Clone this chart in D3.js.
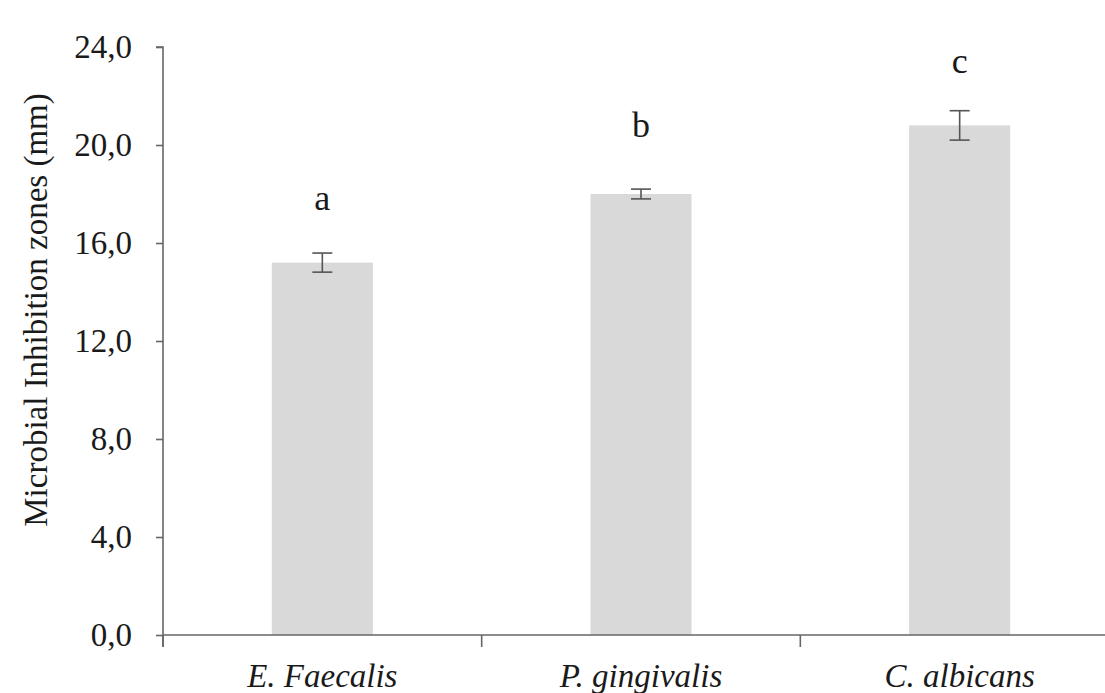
<!DOCTYPE html>
<html>
<head>
<meta charset="utf-8">
<script src="https://cdn.jsdelivr.net/npm/d3@7"></script>
<style>
  body { margin: 0; background: #fff; }
</style>
</head>
<body>
<script>
const categories = ["E. Faecalis", "P. gingivalis", "C. albicans"];
const means = [15.2, 18.0, 20.8];
const errors = [0.39, 0.2, 0.6];
const letters = ["a", "b", "c"];
const letterPos = [17.35, 20.33, 22.94];
const yTicks = [0, 4, 8, 12, 16, 20, 24];

const width = 1105, height = 693;
const margin = {top: 47, right: -14, bottom: 58, left: 163};
const serif = "'Times New Roman', 'Liberation Serif', 'DejaVu Serif', serif";

const svg = d3.select("body").append("svg")
    .attr("width", width)
    .attr("height", height)
    .style("font-family", serif);

const x = d3.scaleBand()
    .domain(categories)
    .range([margin.left, width - margin.right])
    .padding(0);

const y = d3.scaleLinear()
    .domain([0, 24])
    .range([height - margin.bottom, margin.top]);

const barW = x.bandwidth() * 0.317;

// bars
svg.selectAll("rect.bar")
    .data(categories)
    .enter().append("rect")
    .attr("class", "bar")
    .attr("x", (d) => x(d) + x.bandwidth() / 2 - barW / 2)
    .attr("y", (d, i) => y(means[i]))
    .attr("width", barW)
    .attr("height", (d, i) => y(0) - y(means[i]))
    .attr("fill", "#d9d9d9");

// error bars
const eb = svg.selectAll("g.err")
    .data(categories)
    .enter().append("g")
    .attr("class", "err")
    .attr("stroke", "#555")
    .attr("stroke-width", 1.6);
eb.append("line")
    .attr("x1", (d) => x(d) + x.bandwidth() / 2)
    .attr("x2", (d) => x(d) + x.bandwidth() / 2)
    .attr("y1", (d, i) => y(means[i] - errors[i]))
    .attr("y2", (d, i) => y(means[i] + errors[i]));
[-1, 1].forEach(function (s) {
    eb.append("line")
        .attr("x1", (d) => x(d) + x.bandwidth() / 2 - 10)
        .attr("x2", (d) => x(d) + x.bandwidth() / 2 + 10)
        .attr("y1", (d, i) => y(means[i] + s * errors[i]))
        .attr("y2", (d, i) => y(means[i] + s * errors[i]));
});

// significance letters
svg.selectAll("text.letter")
    .data(categories)
    .enter().append("text")
    .attr("class", "letter")
    .attr("x", (d) => x(d) + x.bandwidth() / 2)
    .attr("y", (d, i) => y(letterPos[i]))
    .attr("text-anchor", "middle")
    .attr("fill", "#1a1a1a")
    .style("font-family", serif)
    .style("font-size", "36px")
    .text((d, i) => letters[i]);

// y axis
const yAxis = svg.append("g")
    .attr("transform", `translate(${margin.left},0)`)
    .call(d3.axisLeft(y).tickValues(yTicks).tickSize(7).tickPadding(24)
        .tickFormat((d) => d3.format(".1f")(d).replace(".", ",")));
yAxis.attr("font-family", null);
yAxis.selectAll("path, line").attr("stroke", "#666").attr("stroke-width", 1.6);
yAxis.select(".domain").attr("d", `M-7,${y(24)}H0V${y(0) + 12}`);
yAxis.selectAll("text")
    .style("font-family", serif)
    .style("font-size", "33px")
    .attr("fill", "#1a1a1a");

// x axis with ticks at category boundaries
const xg = svg.append("g")
    .attr("transform", `translate(0,${y(0)})`);
xg.append("line")
    .attr("x1", margin.left)
    .attr("x2", width)
    .attr("stroke", "#666")
    .attr("stroke-width", 1.6);
xg.selectAll("line.tick")
    .data(categories)
    .enter().append("line")
    .attr("class", "tick")
    .attr("x1", (d) => x(d))
    .attr("x2", (d) => x(d))
    .attr("y1", 0)
    .attr("y2", 12)
    .attr("stroke", "#666")
    .attr("stroke-width", 1.6);
xg.selectAll("text")
    .data(categories)
    .enter().append("text")
    .attr("x", (d) => x(d) + x.bandwidth() / 2)
    .attr("y", 52)
    .attr("text-anchor", "middle")
    .attr("fill", "#1a1a1a")
    .style("font-family", serif)
    .style("font-size", "33px")
    .style("font-style", "italic")
    .text((d) => d);

// y axis title
svg.append("text")
    .attr("transform", "translate(47,310) rotate(-90)")
    .attr("text-anchor", "middle")
    .attr("fill", "#1a1a1a")
    .style("font-family", serif)
    .style("font-size", "33px")
    .text("Microbial Inhibition zones (mm)");
</script>
</body>
</html>
